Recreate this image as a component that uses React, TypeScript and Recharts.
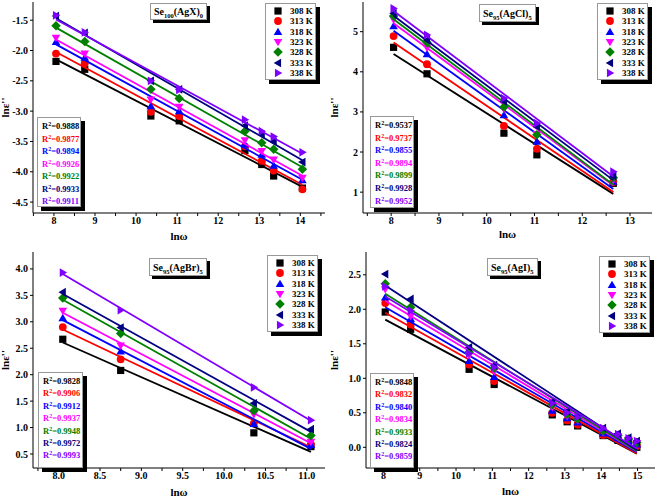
import React from 'react';
import { ScatterChart, Scatter, XAxis, YAxis, Legend } from 'recharts';

// shared series info
const TEMPS = ['308 K', '313 K', '318 K', '323 K', '328 K', '333 K', '338 K'];
const COLORS = ['#000000', '#ff0000', '#0000ff', '#ff00ff', '#008000', '#000080', '#8000ff'];
const SHAPES = ['square', 'circle', 'up', 'down', 'diamond', 'left', 'right'];

// Se100(AgX)0
const AGX_LNW = [8.05, 8.75, 10.36, 11.05, 12.65, 13.06, 13.35, 14.05];
const AGX_LNE = [
  [-2.18, -2.31, -3.08, -3.16, -3.65, -3.88, -4.07, -4.27],
  [-2.05, -2.21, -3.01, -3.08, -3.58, -3.82, -3.98, -4.29],
  [-1.86, -2.12, -2.92, -3.0, -3.55, -3.72, -3.9, -4.14],
  [-1.79, -2.05, -2.81, -2.93, -3.48, -3.66, -3.8, -4.1],
  [-1.59, -1.85, -2.64, -2.79, -3.33, -3.52, -3.63, -3.96],
  [-1.43, -1.71, -2.5, -2.64, -3.24, -3.39, -3.5, -3.84],
  [-1.42, -1.7, -2.5, -2.65, -3.14, -3.33, -3.42, -3.68],
];
const AGX_R2 = ['0.9888', '0.9877', '0.9894', '0.9926', '0.9922', '0.9933', '0.9911'];
const AGX_XTICKS = [7.5, 8, 8.5, 9, 9.5, 10, 10.5, 11, 11.5, 12, 12.5, 13, 13.5, 14, 14.5];
const AGX_YTICKS = [-4.5, -4, -3.5, -3, -2.5, -2, -1.5];

// Se95(AgCl)5
const AGCL_LNW = [8.05, 8.75, 10.36, 11.05, 12.65];
const AGCL_LNE = [
  [4.61, 3.95, 2.47, 1.93, 1.22],
  [4.89, 4.19, 2.65, 2.08, 1.25],
  [5.14, 4.44, 2.92, 2.26, 1.26],
  [5.3, 4.6, 3.07, 2.45, 1.3],
  [5.39, 4.73, 3.12, 2.43, 1.36],
  [5.46, 4.79, 3.26, 2.63, 1.4],
  [5.58, 4.92, 3.34, 2.72, 1.51],
];
const AGCL_R2 = ['0.9537', '0.9737', '0.9855', '0.9894', '0.9899', '0.9928', '0.9952'];
const AGCL_XTICKS = [7.5, 8, 8.5, 9, 9.5, 10, 10.5, 11, 11.5, 12, 12.5, 13];
const AGCL_YTICKS = [1, 2, 3, 4, 5];

// Se95(AgBr)5
const AGBR_LNW = [8.05, 8.75, 10.36, 11.05];
const AGBR_LNE = [
  [2.67, 2.08, 0.9, 0.64],
  [2.9, 2.29, 1.08, 0.68],
  [3.07, 2.44, 1.07, 0.67],
  [3.21, 2.55, 1.25, 0.73],
  [3.45, 2.78, 1.32, 0.85],
  [3.56, 2.89, 1.46, 0.97],
  [3.93, 3.22, 1.76, 1.14],
];
const AGBR_R2 = ['0.9828', '0.9906', '0.9912', '0.9937', '0.9948', '0.9972', '0.9993'];
const AGBR_XTICKS = [7.75, 8, 8.25, 8.5, 8.75, 9, 9.25, 9.5, 9.75, 10, 10.25, 10.5, 10.75, 11];
const AGBR_YTICKS = [0.5, 1, 1.5, 2, 2.5, 3, 3.5, 4];

// Se95(AgI)5
const AGI_LNW = [8.05, 8.75, 10.36, 11.05, 12.65, 13.06, 13.35, 14.05, 14.46, 14.75, 14.98];
const AGI_LNE = [
  [1.96, 1.71, 1.13, 0.91, 0.47, 0.37, 0.31, 0.17, 0.1, 0.05, 0.0],
  [2.09, 1.78, 1.2, 0.96, 0.5, 0.39, 0.33, 0.18, 0.12, 0.07, 0.02],
  [2.17, 1.86, 1.25, 1.02, 0.53, 0.42, 0.36, 0.2, 0.14, 0.09, 0.04],
  [2.29, 1.9, 1.33, 1.1, 0.58, 0.45, 0.39, 0.22, 0.16, 0.11, 0.06],
  [2.37, 2.03, 1.38, 1.15, 0.62, 0.48, 0.41, 0.24, 0.17, 0.12, 0.07],
  [2.51, 2.15, 1.45, 1.19, 0.66, 0.52, 0.45, 0.28, 0.2, 0.14, 0.09],
  [2.33, 1.98, 1.36, 1.16, 0.64, 0.5, 0.44, 0.28, 0.19, 0.13, 0.09],
];
const AGI_R2 = ['0.9848', '0.9832', '0.9840', '0.9834', '0.9933', '0.9824', '0.9859'];
const AGI_XTICKS = [8, 8.5, 9, 9.5, 10, 10.5, 11, 11.5, 12, 12.5, 13, 13.5, 14, 14.5, 15];
const AGI_YTICKS = [0, 0.5, 1, 1.5, 2, 2.5];

const FONT = "'Liberation Serif', 'Times New Roman', serif";
const W = 329;
const H = 248;

function Marker({ kind, cx, cy, r, fill }: any) {
  const k = r * 1.2;
  switch (kind) {
    case 'square':
      return <rect x={cx - r} y={cy - r} width={2 * r} height={2 * r} fill={fill} />;
    case 'circle':
      return <circle cx={cx} cy={cy} r={r + 0.3} fill={fill} />;
    case 'up':
      return <polygon points={`${cx},${cy - k} ${cx + k},${cy + r * 0.85} ${cx - k},${cy + r * 0.85}`} fill={fill} />;
    case 'down':
      return <polygon points={`${cx},${cy + k} ${cx + k},${cy - r * 0.85} ${cx - k},${cy - r * 0.85}`} fill={fill} />;
    case 'diamond':
      return <polygon points={`${cx},${cy - k * 1.1} ${cx + k * 1.1},${cy} ${cx},${cy + k * 1.1} ${cx - k * 1.1},${cy}`} fill={fill} />;
    case 'left':
      return <polygon points={`${cx - k},${cy} ${cx + r * 0.85},${cy - k} ${cx + r * 0.85},${cy + k}`} fill={fill} />;
    default:
      return <polygon points={`${cx + k},${cy} ${cx - r * 0.85},${cy - k} ${cx - r * 0.85},${cy + k}`} fill={fill} />;
  }
}

function LegendBox() {
  return (
    <div style={{ background: '#fff', border: '1px solid #999', boxShadow: '4px 4px 0 #000', padding: '2px 0 1px', fontFamily: FONT, fontWeight: 'bold', fontSize: 9 }}>
      {TEMPS.map((t, i) => (
        <div key={t} style={{ height: 10.3, display: 'flex', alignItems: 'center', whiteSpace: 'nowrap' }}>
          <svg width={22} height={10} style={{ flex: 'none' }}>
            <Marker kind={SHAPES[i]} cx={12} cy={5} r={3.6} fill={COLORS[i]} />
          </svg>
          <span style={{ marginLeft: 2, lineHeight: '10px' }}>{t}</span>
        </div>
      ))}
    </div>
  );
}

function Panel({ left, top, frame, xDomain, yDomain, xTicks, yTicks, xFmt, yFmt, lnw, lne, r2, title, legendBox, r2Box, titleBox, xLabelOffset }: any) {
  const tickStyle = { fill: '#000', fontSize: 10, fontWeight: 'bold', fontFamily: FONT };
  const labelStyle = { fill: '#000', fontSize: 11, fontWeight: 'bold', fontFamily: FONT, textAnchor: 'middle' };
  return (
    <div style={{ position: 'absolute', left, top, width: W, height: H }}>
      <ScatterChart width={W} height={H} margin={{ top: frame.top, right: W - frame.right, left: 0, bottom: 0 }}>
        <XAxis
          type="number"
          dataKey="x"
          domain={xDomain}
          allowDataOverflow
          ticks={xTicks}
          interval={0}
          tickFormatter={xFmt}
          height={H - frame.bottom}
          tickSize={3}
          tickMargin={1}
          stroke="#000"
          tick={tickStyle}
          label={{ value: 'lnω', position: 'insideBottom', offset: xLabelOffset, style: labelStyle }}
        />
        <YAxis
          type="number"
          dataKey="y"
          domain={yDomain}
          allowDataOverflow
          ticks={yTicks}
          interval={0}
          tickFormatter={yFmt}
          width={frame.left}
          tickSize={3}
          tickMargin={2}
          stroke="#000"
          tick={tickStyle}
          label={{ value: "lnε''", angle: -90, position: 'insideLeft', offset: 5, style: labelStyle }}
        />
        {/* mirror axes close the frame */}
        <XAxis xAxisId="top" orientation="top" type="number" domain={xDomain} allowDataOverflow height={0} tick={false} tickLine={false} stroke="#000" />
        <YAxis yAxisId="right" orientation="right" type="number" domain={yDomain} allowDataOverflow width={0} tick={false} tickLine={false} stroke="#000" />
        {lne.map((vals: number[], i: number) => (
          <Scatter
            key={TEMPS[i]}
            name={TEMPS[i]}
            data={lnw.map((x: number, j: number) => ({ x, y: vals[j] }))}
            fill={COLORS[i]}
            line={{ stroke: COLORS[i], strokeWidth: 1.8 }}
            lineType="fitting"
            shape={(p: any) => <Marker kind={SHAPES[i]} cx={p.cx} cy={p.cy} r={3.6} fill={COLORS[i]} />}
            isAnimationActive={false}
          />
        ))}
        <Legend
          layout="vertical"
          align="center"
          verticalAlign="middle"
          wrapperStyle={{ left: legendBox.x, top: legendBox.y, width: legendBox.w, height: 'auto' }}
          content={() => <LegendBox />}
        />
      </ScatterChart>
      <div style={{ position: 'absolute', left: titleBox.x, top: titleBox.y, height: titleBox.h, padding: '0 3px', background: '#fff', border: '1px solid #999', boxShadow: '3px 3px 0 #000', fontFamily: FONT, fontWeight: 'bold', fontSize: 10, display: 'flex', alignItems: 'center', whiteSpace: 'nowrap', boxSizing: 'border-box' }}>
        {title}
      </div>
      <div style={{ position: 'absolute', left: r2Box.x, top: r2Box.y, width: r2Box.w, height: r2Box.h, background: '#fff', border: '1px solid #999', boxShadow: '4px 4px 0 #000', fontFamily: FONT, fontWeight: 'bold', fontSize: 8.5, paddingTop: 2, paddingLeft: 4, boxSizing: 'border-box' }}>
        {r2.map((v: string, i: number) => (
          <div key={v + i} style={{ color: COLORS[i], height: r2Box.row, lineHeight: `${r2Box.row}px`, whiteSpace: 'nowrap' }}>
            R<sup style={{ fontSize: 6, verticalAlign: 3, lineHeight: 0 }}>2</sup>={v}
          </div>
        ))}
      </div>
    </div>
  );
}

const sub = (s: string) => <span style={{ fontSize: 6.5, position: 'relative', top: 3 }}>{s}</span>;
const f1 = (v: number) => v.toFixed(1);
const intOnly = (v: number) => (Number.isInteger(v) ? String(v) : '');
const halfOnly = (v: number) => (Number.isInteger(v * 2) ? v.toFixed(1) : '');

export default function App() {
  return (
    <div style={{ position: 'absolute', left: 0, top: 0, width: 658, height: 497, background: '#fff', overflow: 'hidden' }}>
      <Panel
        left={0}
        top={0}
        frame={{ left: 33, right: 325, top: 2, bottom: 213 }}
        xDomain={[7.49, 14.6]}
        yDomain={[-4.68, -1.2]}
        xTicks={AGX_XTICKS}
        yTicks={AGX_YTICKS}
        xFmt={intOnly}
        yFmt={f1}
        lnw={AGX_LNW}
        lne={AGX_LNE}
        r2={AGX_R2}
        title={<span>Se{sub('100')}(AgX){sub('0')}</span>}
        legendBox={{ x: 265, y: 3, w: 51 }}
        r2Box={{ x: 37, y: 117, w: 44, h: 90, row: 12.5 }}
        titleBox={{ x: 150, y: 3, h: 17 }}
        xLabelOffset={8}
      />
      <Panel
        left={329}
        top={0}
        frame={{ left: 34, right: 323, top: 2, bottom: 213 }}
        xDomain={[7.41, 13.46]}
        yDomain={[0.48, 5.74]}
        xTicks={AGCL_XTICKS}
        yTicks={AGCL_YTICKS}
        xFmt={intOnly}
        yFmt={(v: number) => String(v)}
        lnw={AGCL_LNW}
        lne={AGCL_LNE}
        r2={AGCL_R2}
        title={<span>Se{sub('95')}(AgCl){sub('5')}</span>}
        legendBox={{ x: 268, y: 3, w: 51 }}
        r2Box={{ x: 41, y: 116, w: 44, h: 92, row: 12.6 }}
        titleBox={{ x: 150, y: 4, h: 18 }}
        xLabelOffset={10}
      />
      <Panel
        left={0}
        top={249}
        frame={{ left: 33, right: 325, top: 3, bottom: 219 }}
        xDomain={[7.69, 11.22]}
        yDomain={[0.235, 4.32]}
        xTicks={AGBR_XTICKS}
        yTicks={AGBR_YTICKS}
        xFmt={halfOnly}
        yFmt={f1}
        lnw={AGBR_LNW}
        lne={AGBR_LNE}
        r2={AGBR_R2}
        title={<span>Se{sub('95')}(AgBr){sub('5')}</span>}
        legendBox={{ x: 267, y: 6, w: 51 }}
        r2Box={{ x: 38, y: 123, w: 45, h: 96, row: 12.4 }}
        titleBox={{ x: 149, y: 9, h: 18 }}
        xLabelOffset={1}
      />
      <Panel
        left={329}
        top={249}
        frame={{ left: 37, right: 326, top: 3, bottom: 219 }}
        xDomain={[7.52, 15.48]}
        yDomain={[-0.3, 2.83]}
        xTicks={AGI_XTICKS}
        yTicks={AGI_YTICKS}
        xFmt={intOnly}
        yFmt={f1}
        lnw={AGI_LNW}
        lne={AGI_LNE}
        r2={AGI_R2}
        title={<span>Se{sub('95')}(AgI){sub('5')}</span>}
        legendBox={{ x: 270, y: 7, w: 51 }}
        r2Box={{ x: 41, y: 124, w: 44, h: 95, row: 12.4 }}
        titleBox={{ x: 158, y: 9, h: 18 }}
        xLabelOffset={2}
      />
    </div>
  );
}
